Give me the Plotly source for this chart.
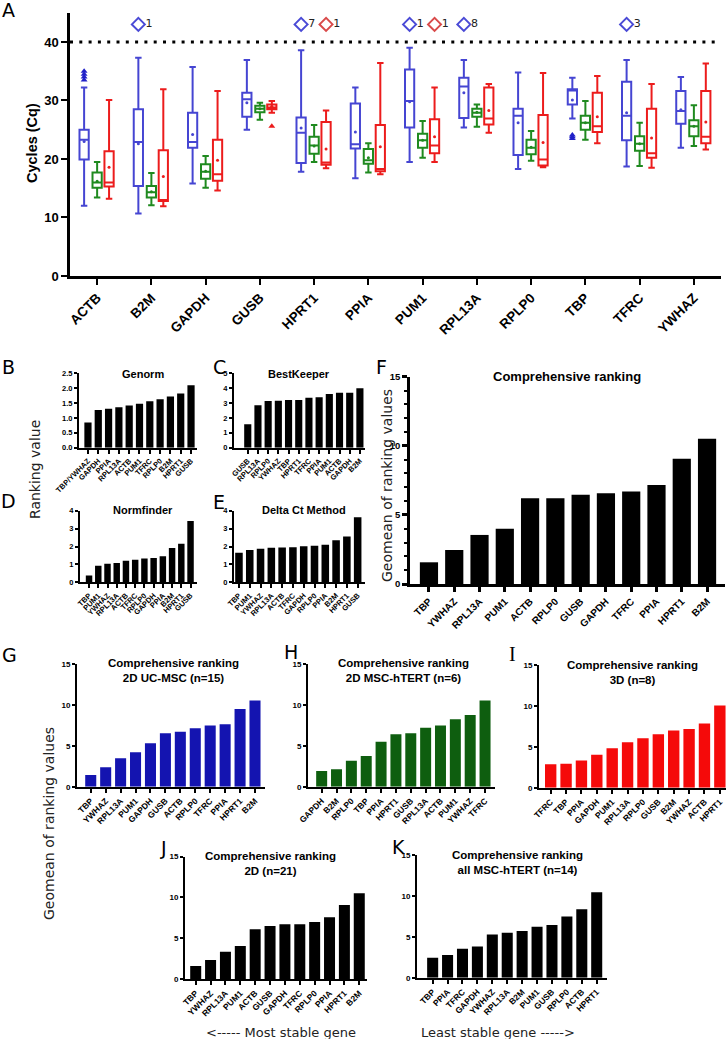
import plotly.graph_objects as go

W, H = 726, 1039

# ---------------- Panel A: Cq per reference gene ----------------
GENES = ["ACTB", "B2M", "GAPDH", "GUSB", "HPRT1", "PPIA",
         "PUM1", "RPL13A", "RPLP0", "TBP", "TFRC", "YWHAZ"]

# 2D UC-MSC (blue)
UC_LOW = [12.0, 10.7, 15.8, 25.0, 17.8, 16.7, 19.5, 25.4, 18.3, 26.9, 18.7, 21.9]
UC_Q1 = [19.9, 15.4, 21.9, 27.2, 19.3, 21.8, 25.4, 27.0, 20.7, 29.3, 23.2, 26.0]
UC_MED = [23.3, 22.9, 22.9, 30.2, 24.5, 22.5, 29.9, 32.4, 27.4, 31.7, 27.4, 28.2]
UC_Q3 = [25.0, 28.5, 27.9, 31.3, 27.1, 29.5, 35.3, 33.9, 28.6, 31.9, 33.2, 31.6]
UC_HIGH = [32.2, 37.3, 35.7, 36.9, 38.6, 32.2, 39.0, 36.9, 34.8, 33.9, 36.9, 34.0]
UC_MEAN = [23.0, 22.6, 24.2, 29.6, 25.3, 24.6, 29.8, 31.3, 26.2, 30.1, 27.9, 28.4]

# 2D MSC-hTERT (green)
HT_LOW = [13.4, 12.1, 15.1, 26.7, 19.5, 17.7, 20.2, 25.5, 19.7, 23.3, 18.8, 22.2]
HT_Q1 = [15.1, 13.4, 16.6, 28.0, 20.9, 19.2, 21.9, 27.2, 20.8, 25.0, 21.4, 23.9]
HT_MED = [16.0, 14.3, 17.8, 28.6, 22.3, 19.8, 23.2, 27.9, 21.9, 26.2, 22.6, 25.6]
HT_Q3 = [17.7, 15.4, 19.1, 29.1, 23.8, 21.7, 24.3, 28.6, 23.3, 27.4, 23.9, 26.6]
HT_HIGH = [19.5, 17.6, 20.5, 29.6, 25.8, 22.7, 26.5, 29.3, 24.8, 29.9, 26.2, 29.2]
HT_MEAN = [16.2, 14.4, 17.9, 28.6, 22.2, 20.2, 23.2, 28.0, 22.0, 26.2, 22.6, 25.6]

# 3D (red)
D3_LOW = [13.2, 11.9, 14.6, 27.9, 18.4, 17.4, 19.5, 24.5, 18.6, 22.7, 18.5, 21.6]
D3_Q1 = [15.3, 12.8, 16.3, 28.5, 19.0, 17.9, 21.0, 25.9, 18.9, 24.6, 20.2, 22.7]
D3_MED = [16.0, 13.0, 17.4, 28.8, 19.4, 18.3, 22.3, 26.9, 19.9, 25.6, 21.0, 23.8]
D3_Q3 = [21.3, 21.5, 23.3, 29.3, 26.3, 25.8, 26.8, 32.2, 27.5, 31.3, 28.6, 31.6]
D3_HIGH = [30.1, 31.9, 31.6, 29.9, 28.3, 36.4, 32.2, 32.8, 34.7, 34.2, 32.8, 36.3]
D3_MEAN = [18.6, 17.0, 19.8, 29.0, 21.7, 22.1, 23.8, 28.3, 22.8, 27.2, 23.6, 26.3]

# outliers
OUT_GENE = ["ACTB", "ACTB", "ACTB", "ACTB", "TBP", "TBP", "TBP", "GUSB"]
OUT_GROUP = ["uc", "uc", "uc", "uc", "uc", "uc", "uc", "d3"]
OUT_VAL = [33.5, 34.0, 34.5, 35.0, 23.5, 23.8, 24.1, 25.6]

# samples above the 40-cycle cut-off (counts)
OVER_GENE = ["B2M", "HPRT1", "HPRT1", "PUM1", "PUM1", "RPL13A", "TFRC"]
OVER_GROUP = ["uc", "uc", "d3", "uc", "d3", "uc", "uc"]
OVER_N = [1, 7, 1, 1, 1, 8, 3]
CUTOFF = 40
OVER_Y = 43

# ---------------- Panels B-E: single algorithm rankings ----------------
B_GENES = ["TBP/YWHAZ", "GAPDH", "PPIA", "RPL13A", "ACTB", "PUM1", "TFRC", "RPLP0", "B2M", "HPRT1", "GUSB"]
B_VALS = [0.85, 1.27, 1.31, 1.36, 1.42, 1.48, 1.56, 1.63, 1.72, 1.82, 2.10]
C_GENES = ["GUSB", "RPL13A", "RPLP0", "YWHAZ", "TBP", "HPRT1", "TFRC", "PPIA", "PUM1", "ACTB", "GAPDH", "B2M"]
C_VALS = [1.57, 2.85, 3.14, 3.16, 3.20, 3.20, 3.36, 3.39, 3.61, 3.70, 3.70, 3.99]
D_GENES = ["TBP", "PUM1", "YWHAZ", "RPL13A", "ACTB", "TFRC", "RPLP0", "GAPDH", "PPIA", "B2M", "HPRT1", "GUSB"]
D_VALS = [0.38, 0.93, 1.03, 1.08, 1.20, 1.26, 1.33, 1.36, 1.46, 1.91, 2.16, 3.42]
E_GENES = ["TBP", "PUM1", "YWHAZ", "RPL13A", "ACTB", "TFRC", "GAPDH", "RPLP0", "PPIA", "B2M", "HPRT1", "GUSB"]
E_VALS = [1.65, 1.80, 1.88, 1.93, 1.95, 1.96, 2.01, 2.04, 2.10, 2.35, 2.56, 3.64]

# ---------------- Panels F-K: comprehensive rankings ----------------
F_GENES = ["TBP", "YWHAZ", "RPL13A", "PUM1", "ACTB", "RPLP0", "GUSB", "GAPDH", "TFRC", "PPIA", "HPRT1", "B2M"]
F_VALS = [1.57, 2.46, 3.55, 3.99, 6.21, 6.21, 6.45, 6.57, 6.69, 7.17, 9.06, 10.51]
G_GENES = ["TBP", "YWHAZ", "RPL13A", "PUM1", "GAPDH", "GUSB", "ACTB", "RPLP0", "TFRC", "PPIA", "HPRT1", "B2M"]
G_VALS = [1.43, 2.37, 3.47, 4.20, 5.30, 6.53, 6.73, 7.14, 7.47, 7.63, 9.50, 10.53]
H_GENES = ["GAPDH", "B2M", "RPLP0", "TBP", "PPIA", "HPRT1", "GUSB", "RPL13A", "ACTB", "PUM1", "YWHAZ", "TFRC"]
H_VALS = [1.92, 2.12, 3.18, 3.76, 5.50, 6.40, 6.53, 7.22, 7.47, 8.24, 8.78, 10.53]
I_GENES = ["TFRC", "TBP", "PPIA", "GAPDH", "PUM1", "RPL13A", "RPLP0", "GUSB", "B2M", "YWHAZ", "ACTB", "HPRT1"]
I_VALS = [2.86, 2.94, 3.31, 4.04, 4.82, 5.55, 6.04, 6.53, 6.98, 7.18, 7.84, 10.04]
J_GENES = ["TBP", "YWHAZ", "RPL13A", "PUM1", "ACTB", "GUSB", "GAPDH", "TFRC", "RPLP0", "PPIA", "HPRT1", "B2M"]
J_VALS = [1.59, 2.33, 3.35, 4.04, 6.08, 6.49, 6.69, 6.69, 6.98, 7.55, 9.06, 10.49]
K_GENES = ["TBP", "PPIA", "TFRC", "GAPDH", "YWHAZ", "RPL13A", "B2M", "PUM1", "GUSB", "RPLP0", "ACTB", "HPRT1"]
K_VALS = [2.45, 2.78, 3.55, 3.80, 5.27, 5.51, 5.71, 6.24, 6.45, 7.47, 8.37, 10.45]

# ---- styling ----
BOLD = "Liberation Sans"
PLAIN = "DejaVu Sans"
BOX_COLOR = {"uc": "#4545d2", "ht": "#1f8a1f", "d3": "#ec1c1c"}
DIAMOND_COLOR = {"uc": "#4a4ad6", "d3": "#d94a4a"}
OFFSET = {"uc": -0.24, "ht": 0.0, "d3": 0.22}
BAR_BLACK = "#000000"
BAR_BLUE = "#1414b0"
BAR_GREEN = "#0e5e0f"
BAR_RED = "#f50a0a"


def xdom(x0, x1):
    return [x0 / W, x1 / W]


def ydom(top, bottom):
    return [1 - bottom / H, 1 - top / H]


fig = go.Figure()
layout = {}

# ---- Panel A traces ----
gi = {g: i for i, g in enumerate(GENES)}
groups = [
    ("uc", UC_LOW, UC_Q1, UC_MED, UC_Q3, UC_HIGH, UC_MEAN),
    ("ht", HT_LOW, HT_Q1, HT_MED, HT_Q3, HT_HIGH, HT_MEAN),
    ("d3", D3_LOW, D3_Q1, D3_MED, D3_Q3, D3_HIGH, D3_MEAN),
]
for key, lo, q1, med, q3, hi, mean in groups:
    xs = [i + OFFSET[key] for i in range(len(GENES))]
    fig.add_trace(go.Box(
        x=xs, lowerfence=lo, q1=q1, median=med, q3=q3, upperfence=hi,
        width=0.17, whiskerwidth=0.7, boxpoints=False,
        line=dict(color=BOX_COLOR[key], width=2), fillcolor="rgba(0,0,0,0)",
        showlegend=False, xaxis="x", yaxis="y",
    ))
    fig.add_trace(go.Scatter(
        x=xs, y=mean, mode="markers", marker=dict(size=3, color=BOX_COLOR[key]),
        showlegend=False, xaxis="x", yaxis="y",
    ))

for key in ["uc", "d3"]:
    xs = [gi[g] + OFFSET[key] for g, k in zip(OUT_GENE, OUT_GROUP) if k == key]
    ys = [v for v, k in zip(OUT_VAL, OUT_GROUP) if k == key]
    fig.add_trace(go.Scatter(
        x=xs, y=ys, mode="markers",
        marker=dict(symbol="triangle-up", size=6,
                    color="#2020c8" if key == "uc" else BOX_COLOR[key]),
        showlegend=False, xaxis="x", yaxis="y",
    ))
    xs = [gi[g] + OFFSET[key] for g, k in zip(OVER_GENE, OVER_GROUP) if k == key]
    ns = [str(n) for n, k in zip(OVER_N, OVER_GROUP) if k == key]
    fig.add_trace(go.Scatter(
        x=xs, y=[OVER_Y] * len(xs), mode="markers+text", text=ns,
        textposition="middle right", cliponaxis=False,
        textfont=dict(family=PLAIN, size=11, color="#222"),
        marker=dict(symbol="diamond-open", size=10, color=DIAMOND_COLOR[key],
                    line=dict(width=2, color=DIAMOND_COLOR[key])),
        showlegend=False, xaxis="x", yaxis="y",
    ))

axis_common = dict(showline=True, linecolor="black", showgrid=False, zeroline=False,
                   ticks="outside", tickcolor="black", automargin=False)

layout["xaxis"] = dict(
    **axis_common, linewidth=2.5, tickwidth=2, ticklen=6,
    domain=xdom(70, 721), anchor="y", range=[-0.5, 11.5],
    tickvals=list(range(len(GENES))), ticktext=GENES, tickangle=-45,
    tickfont=dict(family=BOLD, size=13.5, color="black", weight="bold"),
)
layout["yaxis"] = dict(
    **axis_common, linewidth=2.5, tickwidth=2, ticklen=6,
    domain=ydom(12.7, 276), anchor="x", range=[0, 45], tickvals=[0, 10, 20, 30, 40],
    tickfont=dict(family=BOLD, size=13, color="black", weight="bold"),
)
fig.add_shape(type="line", xref="x domain", yref="y", x0=0, x1=1, y0=CUTOFF, y1=CUTOFF,
              line=dict(color="black", width=3, dash="3px,6.3px"))

# ---- bar panels ----
# (id, genes, values, color, x px range, y px top/bottom, x pad, y max, dtick, fmt,
#  y tick size, x tick size, bar width)
bar_panels = [
    (2, B_GENES, B_VALS, BAR_BLACK, (79, 197), (373.3, 447.7), (0.87, 0.58), 2.5, 0.5, ".1f", 7.5, 7.5, 0.7),
    (3, C_GENES, C_VALS, BAR_BLACK, (234, 365), (373.3, 447.7), (1.35, 0.5), 5, 1, "", 7.5, 7.5, 0.7),
    (4, D_GENES, D_VALS, BAR_BLACK, (80, 197), (510.7, 582.3), (0.98, 0.7), 4, 1, "", 7.5, 7.5, 0.7),
    (5, E_GENES, E_VALS, BAR_BLACK, (234, 365), (510.7, 582.3), (0.46, 0.68), 4, 1, "", 7.5, 7.5, 0.7),
    (6, F_GENES, F_VALS, BAR_BLACK, (410, 725), (376.7, 584), (0.75, 0.71), 15, 5, "", 9.5, 10, 0.72),
    (7, G_GENES, G_VALS, BAR_BLUE, (77, 265), (664, 786.7), (0.92, 0.67), 15, 5, "", 8, 8.5, 0.74),
    (8, H_GENES, H_VALS, BAR_GREEN, (308, 495), (664, 786.7), (0.92, 0.67), 15, 5, "", 8, 8.5, 0.74),
    (9, I_GENES, I_VALS, BAR_RED, (539, 726), (665, 787.7), (0.76, 0.4), 15, 5, "", 8, 8.5, 0.74),
    (10, J_GENES, J_VALS, BAR_BLACK, (185, 367), (856.5, 979), (0.72, 0.52), 15, 5, "", 8, 8.5, 0.74),
    (11, K_GENES, K_VALS, BAR_BLACK, (417, 607), (855, 977.7), (1.05, 0.69), 15, 5, "", 8, 8.5, 0.74),
]
for (n, genes, vals, color, (x0, x1), (yt, yb), (pa, pb), ytop, dtick, fmt,
     yfs, xfs, bw) in bar_panels:
    fig.add_trace(go.Bar(
        x=genes, y=vals, marker=dict(color=color, line=dict(width=0)), width=bw,
        showlegend=False, xaxis=f"x{n}", yaxis=f"y{n}",
    ))
    lw = 2.5 if n == 6 else 2
    layout[f"xaxis{n}"] = dict(
        **axis_common, linewidth=lw, tickwidth=lw, ticklen=4 if n != 6 else 5,
        domain=xdom(x0, x1), anchor=f"y{n}", type="category",
        range=[-pa, len(genes) - 1 + pb], tickangle=-45,
        tickmode="array", tickvals=genes, ticktext=genes,
        tickfont=dict(family=BOLD, size=xfs, color="black", weight="bold"),
    )
    ydict = dict(
        **axis_common, linewidth=lw, tickwidth=lw, ticklen=3 if n != 6 else 5,
        domain=ydom(yt, yb), anchor=f"x{n}", range=[0, ytop], dtick=dtick, tick0=0,
        tickformat=fmt,
        tickfont=dict(family=BOLD, size=yfs, color="black", weight="bold"),
    )
    if n == 6:
        ydict["minor"] = dict(ticks="outside", dtick=1, ticklen=3, tickwidth=1.5,
                              tickcolor="black")
    layout[f"yaxis{n}"] = ydict

# ---- annotations ----
annotations = []


def ann(text, px, py, size, family=PLAIN, bold=False, angle=0, color="black"):
    annotations.append(dict(
        text=text, x=px / W, y=1 - py / H, xref="paper", yref="paper",
        showarrow=False, textangle=angle, xanchor="center", yanchor="middle",
        font=dict(family=family, size=size, color=color,
                  weight="bold" if bold else "normal"),
    ))


# panel letters
for letter, px, py in [("A", 8, 10), ("B", 8, 367), ("C", 219, 367), ("D", 8, 501),
                       ("E", 219, 502), ("F", 381, 367), ("G", 9, 655), ("H", 291, 652),
                       ("J", 163, 848), ("K", 399, 847)]:
    ann(letter, px, py, 19)
ann("I", 512, 654, 20, family="Liberation Serif")

# axis titles
ann("Cycles (Cq)", 32, 143, 14.5, family=BOLD, bold=True, angle=-90)
ann("Ranking value", 35, 470, 14, angle=-90, color="#222")
ann("Geomean of ranking values", 387, 486, 14, angle=-90, color="#222")
ann("Geomean of ranking values", 49, 824, 14, angle=-90, color="#222")

# panel titles
ann("Genorm", 143, 374, 11, family=BOLD, bold=True)
ann("BestKeeper", 299, 374, 11, family=BOLD, bold=True)
ann("Normfinder", 143, 510, 11, family=BOLD, bold=True)
ann("Delta Ct Method", 304, 510, 11, family=BOLD, bold=True)
ann("Comprehensive ranking", 567, 376, 13, family=BOLD, bold=True)
ann("Comprehensive ranking<br>2D UC-MSC (n=15)", 173, 670, 11.5, family=BOLD, bold=True)
ann("Comprehensive ranking<br>2D MSC-hTERT (n=6)", 403, 670, 11.5, family=BOLD, bold=True)
ann("Comprehensive ranking<br>3D (n=8)", 632, 672, 11.5, family=BOLD, bold=True)
ann("Comprehensive ranking<br>2D (n=21)", 270, 863, 11.5, family=BOLD, bold=True)
ann("Comprehensive ranking<br>all MSC-hTERT (n=14)", 517, 862, 11.5, family=BOLD, bold=True)

# footer
ann("<----- Most stable gene", 281, 1032, 13, color="#222")
ann("Least stable gene ----->", 498, 1032, 13, color="#222")

fig.update_layout(
    **layout,
    annotations=annotations,
    template="none",
    width=W, height=H, autosize=False,
    margin=dict(l=0, r=0, t=0, b=0, autoexpand=False),
    paper_bgcolor="white", plot_bgcolor="white",
    bargap=0.25,
)

# page body has a default 8px margin; drop it so the figure fills the window
fig.write_html("out.html",
               config={"displayModeBar": False},
               post_script="document.body.style.margin='0';"
                           "document.body.style.overflow='hidden';")
